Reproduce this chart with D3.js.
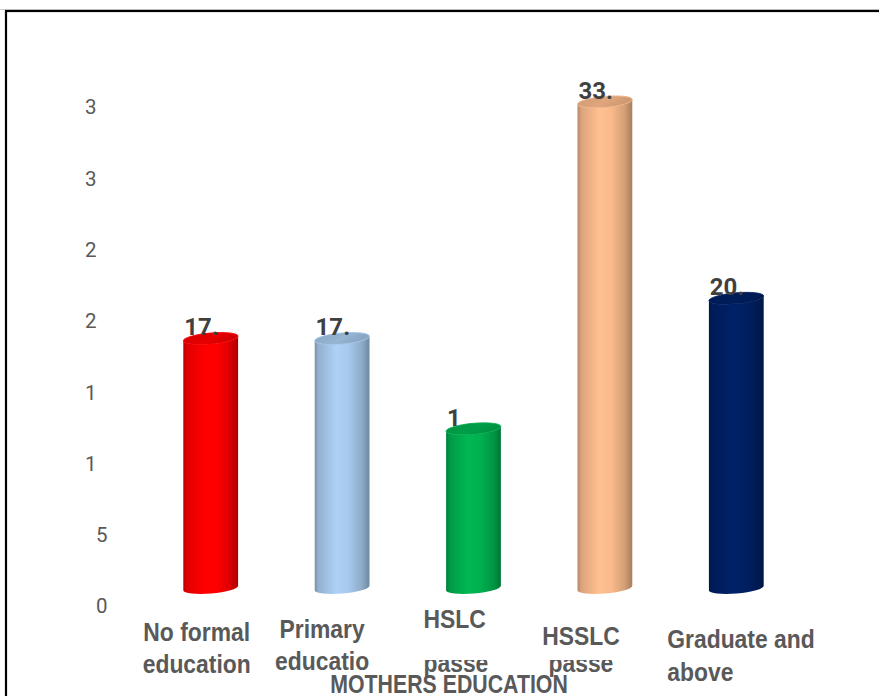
<!DOCTYPE html>
<html><head><meta charset="utf-8">
<script src="https://cdn.jsdelivr.net/npm/d3@7"></script>
<style>
html,body{margin:0;padding:0;background:#fff;}
svg{display:block;}
</style></head>
<body>
<script>
// ---- data ----
const categories = ["No formal education","Primary education","HSLC passed","HSSLC passed","Graduate and above"];
const categoryLines = [["No formal","education"],["Primary","educatio"],["HSLC","passe"],["HSSLC","passe"],["Graduate and","above"]];
const values = [17.4, 17.4, 11.1, 33.9, 20.2];
const dataLabels = ["17.","17.","1","33.","20."];
const colors = ["#ff0000","#a6c9ec","#00b050","#f9b98b","#002064"];
const tickValues = [0,5,10,15,20,25,30,35];
const tickLabels = ["0","5","1","1","2","2","3","3"];
const axisTitle = "MOTHERS EDUCATION";

// ---- layout ----
const W = 879, H = 696;
const labelLayout = [
  {anchor:"middle", dx:-14, y:[641,673], clip:[false,false]},
  {anchor:"middle", dx:-20, y:[638,670], clip:[false,false]},
  {anchor:"start",  dx:-50, y:[628,672], clip:[false,true]},
  {anchor:"middle", dx:-24, y:[645,672], clip:[false,true]},
  {anchor:"start",  dx:-69, y:[648,681], clip:[false,false]}
];
const font = "'Liberation Sans', Arial, sans-serif";

const svg = d3.select("body").append("svg").attr("width", W).attr("height", H);
const defs = svg.append("defs");
defs.append("clipPath").attr("id","cutTop").append("rect")
  .attr("x",0).attr("y",660).attr("width",W).attr("height",H);

// frame
svg.append("line").attr("x1",0).attr("x2",W).attr("y1",9.5).attr("y2",9.5)
  .attr("stroke","#d0d0d0").attr("stroke-width",1);
svg.append("rect").attr("x",6).attr("y",11).attr("width",W+20).attr("height",H+20)
  .attr("fill","none").attr("stroke","#000").attr("stroke-width",2.2);

const x = d3.scalePoint().domain(categories).range([145, 802]).padding(0.5);
const yAxis = d3.scaleLinear().domain([0,35]).range([606,107]);
const yBar = d3.scaleLinear().domain([0,35]).range([588, 588 - 35*14.34]);

const barW = 55, rx = barW/2, ry = 5.5, tilt = -5;
const rad = tilt*Math.PI/180;

function narrowText(parent, px, py, txt, anchor, size, sx){
  const g = parent.append("g").attr("transform", `translate(${px},${py}) scale(${sx},1)`);
  g.append("text").attr("x",0).attr("y",0)
    .attr("text-anchor", anchor)
    .attr("font-family", font)
    .attr("font-weight","bold")
    .attr("font-size", size)
    .attr("fill","#595959")
    .text(txt);
  return g;
}

// y tick labels (truncated as in original)
svg.append("g").selectAll("text").data(tickValues).join("text")
  .attr("x", (d) => 107 - String(d).length*11)
  .attr("y", d => yAxis(d))
  .attr("dy","0.36em")
  .attr("text-anchor","start")
  .attr("font-family","Roboto, sans-serif")
  .attr("font-size",20.5)
  .attr("fill","#595959")
  .text((d,i) => tickLabels[i]);

// gradients
colors.forEach((c,i) => {
  const g = defs.append("linearGradient").attr("id","g"+i).attr("x1","0").attr("x2","1").attr("y1","0").attr("y2","0");
  const base = d3.color(c);
  const stops = [
    [0, base.darker(0.9)],
    [0.07, base.darker(0.35)],
    [0.4, base.brighter(0.12)],
    [0.62, base],
    [0.86, base.darker(0.45)],
    [1, base.darker(1.1)]
  ];
  stops.forEach(s => g.append("stop").attr("offset", s[0]).attr("stop-color", s[1].formatHex()));
  const t = defs.append("linearGradient").attr("id","t"+i).attr("x1","0").attr("x2","1").attr("y1","0").attr("y2","0.4");
  t.append("stop").attr("offset",0).attr("stop-color", base.darker(0.5).formatHex());
  t.append("stop").attr("offset",0.6).attr("stop-color", base.darker(0.3).formatHex());
  t.append("stop").attr("offset",1).attr("stop-color", base.darker(0.55).formatHex());
});

// bars (cylinders)
const bars = svg.append("g").selectAll("g").data(values).join("g");
bars.each(function(v,i){
  const g = d3.select(this);
  const cx = x(categories[i]);
  const yb = yBar(0), yt = yBar(v);
  const ex = rx*Math.cos(rad), ey = rx*Math.sin(rad);
  const lx = cx - ex, rxp = cx + ex;
  const path = `M${lx},${yt - ey} L${lx},${yb - ey} A${rx},${ry} ${tilt} 0 0 ${rxp},${yb + ey} L${rxp},${yt + ey} A${rx},${ry} ${tilt} 0 1 ${lx},${yt - ey} Z`;
  g.append("path").attr("d", path).attr("fill", `url(#g${i})`);
  g.append("ellipse").attr("cx",cx).attr("cy",yt).attr("rx",rx).attr("ry",ry)
    .attr("transform",`rotate(${tilt},${cx},${yt})`)
    .attr("fill",`url(#t${i})`)
    .attr("stroke", d3.color(colors[i]).darker(0.1).formatHex()).attr("stroke-width",0.8);
});

// data labels
svg.append("g").selectAll("text").data(values).join("text")
  .attr("x", (d,i) => x(categories[i]) - rx + 1)
  .attr("y", d => yBar(d) - 3)
  .attr("font-family","Roboto, sans-serif")
  .attr("font-weight","bold")
  .attr("font-size",24)
  .attr("fill","#404040")
  .text((d,i) => dataLabels[i]);

// category labels
const catG = svg.append("g");
categories.forEach((d,i) => {
  const L = labelLayout[i];
  categoryLines[i].forEach((line,j) => {
    const holder = L.clip[j] ? catG.append("g").attr("clip-path","url(#cutTop)") : catG;
    narrowText(holder, x(d) + L.dx, L.y[j], line, L.anchor, 26, 0.88);
  });
});

// axis title
narrowText(svg, 449, 693, axisTitle, "middle", 26, 0.82);
</script>
</body></html>
